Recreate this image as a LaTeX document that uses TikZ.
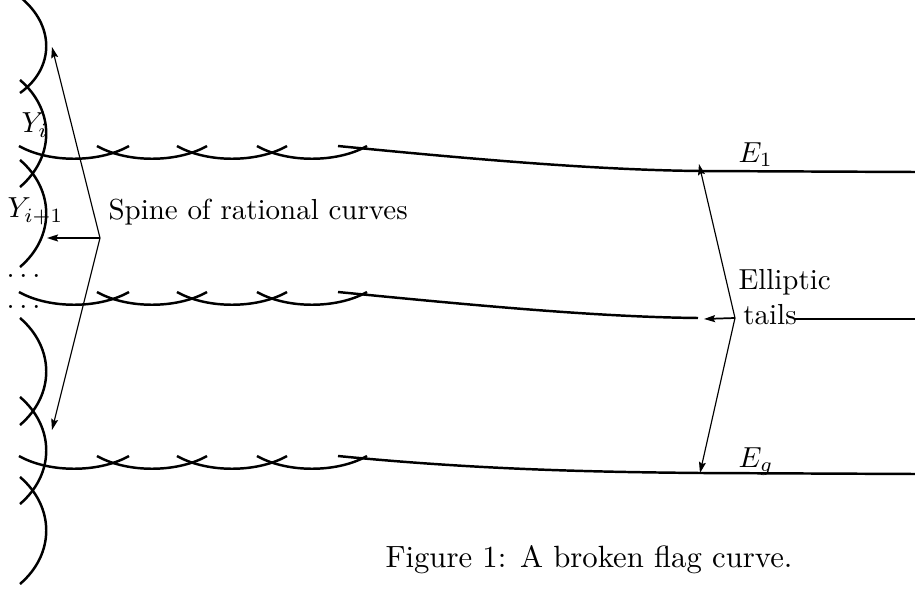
\documentclass[tikz,border=0pt]{standalone}
\usetikzlibrary{arrows.meta}
\newcommand{\lbl}{\fontsize{10}{12}\selectfont}
\newcommand{\titelschrift}{\fontsize{10.6}{12.7}\selectfont}
\tikzset{kurve/.style={line width=0.85pt},
  zeiger/.style={line width=0.4pt,-{Stealth[length=3.8pt,width=2.4pt,inset=0.6pt]}},
  beschr/.style={inner sep=0,font=\lbl}}
\begin{document}
\begin{tikzpicture}[x=0.345pt,y=-0.345pt]
\useasboundingbox (0,0) rectangle (915,590);
\draw[kurve] (20,-3) .. controls (55,25) and (55,68) .. (20,93);
\foreach \y in {80,160,318,397,477}
  \draw[kurve] (20,\y) .. controls (55,\y+30) and (55,\y+77) .. (20,\y+107);
\foreach \r in {0,146,310}
  \foreach \x in {19,97,177,257}
    \draw[kurve] (\x,146+\r) .. controls (\x+30,163+\r) and (\x+80,163+\r) .. (\x+110,146+\r);
\foreach \r/\ende in {0/172,310/474}
  \draw[kurve] (338,146+\r) .. controls (480,160+\r) and (600,\ende-2) .. (700,\ende-1) -- (915,\ende);
\draw[kurve] (338,292) .. controls (480,306) and (600,317) .. (698,318);
\draw[kurve] (795,319) -- (915,319);
\node[beschr,anchor=base west] (yi) at (21,133) {$Y_i$};
\node[beschr,anchor=base west] (yinext) at (7,218) {$Y_{i+1}$};
\node[beschr,anchor=base west] (punkte1) at (6,277) {$\ldots$};
\node[beschr,anchor=base west] (punkte2) at (6,309) {$\ldots$};
\node[beschr,anchor=base west] (rueckgrat) at (108,219) {Spine of rational curves};
\node[beschr,anchor=base west] (eeins) at (738,162) {$E_1$};
\node[beschr,anchor=base west,align=left] (schwanz) at (738,324) {Elliptic\\\,tails};
\node[beschr,anchor=base west] (eg) at (738,467) {$E_g$};
\node[beschr,anchor=base,font=\titelschrift] (titel) at (589,567) {Figure 1: A broken flag curve.};
\coordinate (rspitze) at (100,238);
\coordinate (roben) at (52,47);
\coordinate (rmitte) at (47,238);
\coordinate (runten) at (52,430);
\draw[zeiger] (rspitze) -- (roben);
\draw[zeiger,line width=0.6pt] (rspitze) -- (rmitte);
\draw[zeiger] (rspitze) -- (runten);
\coordinate (espitze) at (735,318);
\coordinate (eoben) at (699,164);
\coordinate (emitte) at (704,319);
\coordinate (eunten) at (700,473);
\draw[zeiger] (espitze) -- (eoben);
\draw[zeiger,line width=0.6pt] (espitze) -- (emitte);
\draw[zeiger] (espitze) -- (eunten);
\end{tikzpicture}
\end{document}
